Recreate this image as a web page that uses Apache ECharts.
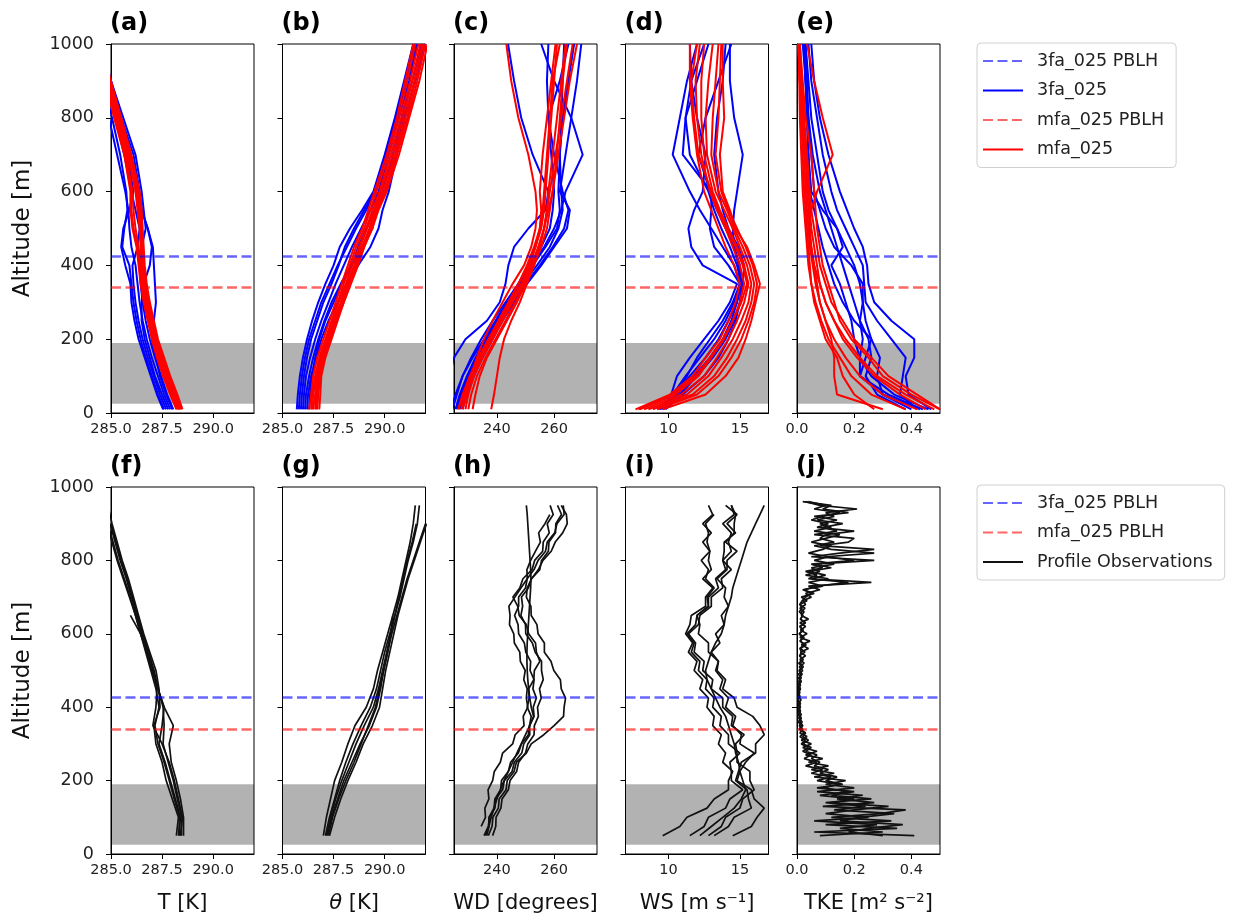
<!DOCTYPE html>
<html><head><meta charset="utf-8">
<script src="https://cdn.jsdelivr.net/npm/echarts@6/dist/echarts.min.js"></script>
<style>html,body{margin:0;padding:0;background:#fff}#c{width:1235px;height:919px}</style>
</head><body><div id="c"></div><script>
// ---------------- DATA ----------------
const PANEL_LABELS = ['(a)','(b)','(c)','(d)','(e)','(f)','(g)','(h)','(i)','(j)'];
const Y_TICKS = [0, 200, 400, 600, 800, 1000];
const TICKS_T = [285, 287.5, 290];
const TICKS_WD = [240, 260];
const TICKS_WS = [10, 15];
const TICKS_TKE = [0, 0.2, 0.4];
const PBLH_3FA = 426;
const PBLH_MFA = 340;
const BAND = [25, 190];

// model levels (m)
const Z_MODEL = [10, 50, 100, 150, 200, 250, 300, 350, 400, 450, 500, 550, 600, 700, 800, 900, 1000];

const T_3FA = [
 [287.6,287.3,287.0,286.7,286.45,286.25,286.1,286.0,285.9,285.55,285.65,285.8,285.75,285.45,285.05,284.6,284.2],
 [288.0,287.7,287.4,287.2,287.0,287.1,287.2,287.15,287.1,287.05,286.8,286.5,286.4,286.1,285.5,285.0,284.5],
 [287.8,287.5,287.15,286.9,286.65,286.5,286.5,286.6,286.9,287.0,286.8,286.5,286.35,285.95,285.4,284.9,284.4],
 [287.7,287.4,287.1,286.8,286.55,286.35,286.2,286.1,286.05,286.3,286.4,286.2,286.0,285.65,285.2,284.7,284.3],
 [287.9,287.6,287.3,287.0,286.75,286.55,286.4,286.3,286.2,286.0,285.9,285.85,285.7,285.3,284.9,284.5,284.1],
 [287.55,287.25,286.95,286.65,286.35,286.15,286.0,285.95,285.7,285.5,285.6,285.9,286.1,285.8,285.3,284.8,284.3],
 [288.05,287.75,287.45,287.15,286.9,286.7,286.55,286.45,286.4,286.5,286.7,286.6,286.5,286.2,285.6,285.0,284.5]
];
const T_MFA = [
 [288.35,288.1,287.75,287.45,287.15,286.95,286.75,286.6,286.5,286.45,286.4,286.3,286.2,285.85,285.35,284.85,284.4],
 [288.45,288.2,287.85,287.55,287.25,287.05,286.85,286.7,286.6,286.55,286.5,286.4,286.3,285.95,285.45,284.95,284.5],
 [288.3,288.0,287.65,287.35,287.1,286.9,286.7,286.55,286.45,286.35,286.2,286.1,286.05,285.75,285.25,284.8,284.3],
 [288.4,288.15,287.8,287.5,287.2,287.0,286.8,286.65,286.55,286.5,286.5,286.45,286.35,285.9,285.4,284.9,284.4],
 [288.25,287.95,287.6,287.3,287.05,286.85,286.65,286.5,286.4,286.3,286.1,286.0,286.0,285.7,285.2,284.75,284.3],
 [288.5,288.25,287.9,287.6,287.3,287.1,286.9,286.75,286.65,286.6,286.55,286.5,286.4,286.0,285.5,285.0,284.5],
 [288.35,288.05,287.7,287.4,287.15,286.95,286.78,286.62,286.55,286.5,286.45,286.35,286.25,285.8,285.3,284.85,284.35],
 [288.2,287.9,287.55,287.25,287.0,286.8,286.6,286.45,286.35,286.25,286.05,285.95,285.95,285.65,285.15,284.7,284.25]
];
const TH_3FA = [
 [285.7,285.75,285.85,286.0,286.2,286.45,286.75,287.1,287.5,287.8,288.3,288.9,289.45,290.0,290.5,290.95,291.4],
 [285.9,285.95,286.05,286.2,286.4,286.7,287.0,287.4,287.75,288.05,288.5,289.0,289.5,290.05,290.55,291.0,291.5],
 [286.0,286.05,286.15,286.35,286.6,286.9,287.25,287.6,288.0,288.4,288.85,289.3,289.7,290.2,290.7,291.2,291.6],
 [286.1,286.15,286.3,286.5,286.75,287.05,287.4,287.85,288.35,288.9,289.4,289.6,289.9,290.4,290.85,291.35,291.8],
 [286.2,286.25,286.4,286.65,286.9,287.25,287.7,288.15,288.7,289.3,289.7,289.9,290.2,290.6,291.0,291.5,291.9],
 [285.8,285.85,285.95,286.1,286.3,286.6,286.9,287.3,287.7,288.15,288.6,289.1,289.55,290.1,290.6,291.1,291.55],
 [286.3,286.35,286.45,286.6,286.8,287.1,287.5,287.9,288.4,288.7,289.1,289.5,289.9,290.4,290.95,291.5,292.0]
];
const TH_MFA = [
 [286.3,286.4,286.5,286.7,287.0,287.3,287.6,287.9,288.2,288.5,288.9,289.2,289.5,290.1,290.6,291.0,291.4],
 [286.4,286.45,286.6,286.8,287.1,287.4,287.7,288.0,288.3,288.6,289.0,289.3,289.6,290.2,290.7,291.1,291.5],
 [286.45,286.5,286.65,286.85,287.15,287.45,287.75,288.1,288.4,288.75,289.1,289.4,289.75,290.3,290.8,291.25,291.65],
 [286.5,286.6,286.7,286.9,287.2,287.5,287.85,288.15,288.5,288.8,289.15,289.5,289.8,290.4,290.9,291.35,291.75],
 [286.6,286.65,286.75,286.95,287.25,287.55,287.9,288.2,288.55,288.9,289.25,289.55,289.9,290.5,291.0,291.45,291.85],
 [286.65,286.7,286.8,287.0,287.3,287.6,287.95,288.25,288.6,288.95,289.3,289.6,290.0,290.55,291.1,291.5,291.9],
 [286.7,286.75,286.85,287.05,287.35,287.65,288.0,288.3,288.65,289.0,289.35,289.65,290.05,290.6,291.15,291.6,292.0],
 [286.8,286.85,286.9,287.1,287.4,287.7,288.0,288.35,288.7,289.0,289.4,289.7,290.1,290.7,291.2,291.7,292.1]
];
const WD_3FA = [
 [222,222.5,223.5,225,229,236.5,241,243,244,246,251,257,258,252.5,248.5,246,243.9],
 [224.5,226,228,231,234.5,238.5,243,247.5,252,256.5,260,262.5,264,270,266,260,255.5],
 [226,227.5,230,233,236.5,240.5,244.5,249,254,258.5,261.5,263,262.5,262,262.5,263,263.5],
 [227,228.5,231,234,237.5,241.5,245.5,250,255,259.5,263.5,265,263,260,258,257.5,258],
 [228,229.5,232,235,238.5,242,246,250.5,255.5,260,264.5,265.5,262,264,266,268,269.5],
 [225.5,227,229.5,232.5,236,240,244,248,252.5,257,261,262,261.5,262,263,265,267],
 [224,225.5,228,231.5,235.5,239.5,243.5,247.5,251.5,255.5,258.5,259.5,260,259,258,262,265]
];
const WD_MFA = [
 [228,229.5,231,233,235.5,238.5,242,245.5,249.5,252,253.5,254,253.5,251,247.5,245,243.3],
 [238,239,240,241,242.5,245,248,250.5,253,255,256.5,257.5,258,259.5,261,262.5,264],
 [226.5,228,230.5,233.5,237,240.5,244,247.5,251,253.5,255.5,256.5,257,258,259,260,261],
 [229,230,232,235,238.5,242,245.5,249,252,254.5,256.5,257.5,258.5,260.5,262.5,264.5,266.5],
 [231.5,232.5,234,236.5,240,243.5,247,250,253,255.5,257.5,258.5,259.5,261.5,263.5,265.5,268],
 [227.5,229,231.5,234.5,238,241.5,245,248.5,251.5,253.5,255,255.5,255,256,257.5,259,260.5],
 [230,231,233,236,239.5,243,246.5,249.5,252.5,254.5,256.5,258,259.5,261,262,263,264.5],
 [226.5,228.5,231,234,237.5,241,244.5,247.5,250.5,253,255,256,256.5,257.5,258.5,259.5,262]
];
const WS_3FA = [
 [9.5,10.2,10.6,11.5,12.5,13.5,14.3,14.8,12.4,11.6,11.4,11.8,12.4,12.6,12.0,11.6,11.5],
 [9.6,10.6,11.8,12.9,13.8,14.4,14.8,15.0,14.9,14.6,14.5,14.6,14.8,15.2,14.6,14.3,14.3],
 [9.4,10.3,11.2,12.2,13.2,14.0,14.6,15.0,14.6,13.8,13.0,12.2,11.5,10.3,10.8,11.3,12.0],
 [9.8,11.0,12.5,13.5,14.2,14.7,15.0,15.1,14.8,14.3,13.7,13.2,12.8,11.5,11.2,11.6,12.5],
 [9.3,10.4,11.5,12.6,13.5,14.2,14.8,15.1,15.0,14.6,14.0,13.4,12.9,12.1,12.6,13.5,14.4],
 [9.7,10.8,12.0,13.1,14.0,14.6,15.0,15.2,15.3,14.9,14.2,13.8,13.5,13.2,13.4,13.8,14.0],
 [9.5,10.5,11.3,12.0,12.9,13.8,14.5,15.0,14.2,13.2,12.9,13.0,13.0,11.0,11.2,12.0,12.8]
];
const WS_MFA = [
 [7.7,10.1,11.7,12.6,13.6,14.2,14.7,15.0,14.6,14.0,13.5,13.0,12.5,12.0,11.7,11.5,11.5],
 [8.0,10.5,12.1,13.0,13.9,14.5,15.0,15.3,15.0,14.5,14.0,13.4,12.9,12.3,12.0,11.9,12.2],
 [8.3,10.9,12.5,13.4,14.2,14.8,15.3,15.6,15.3,14.8,14.2,13.6,13.1,12.5,12.3,12.3,12.5],
 [8.6,11.3,12.8,13.7,14.5,15.1,15.6,15.8,15.5,15.0,14.5,13.9,13.3,12.7,12.6,12.8,13.1],
 [8.9,11.7,13.2,14.1,14.8,15.4,15.8,16.0,15.7,15.2,14.6,14.1,13.5,13.0,13.1,13.3,13.5],
 [9.2,12.0,13.5,14.4,15.1,15.6,16.0,16.2,15.9,15.4,14.8,14.2,13.7,13.3,13.5,13.6,13.7],
 [9.6,12.6,14.0,14.9,15.4,15.8,16.1,16.4,16.0,15.5,14.7,14.3,13.8,13.6,13.9,13.8,13.8],
 [7.9,10.3,11.9,12.9,13.8,14.5,15.1,15.5,15.2,14.7,14.1,13.5,13.0,12.1,11.8,11.6,12.0]
];
const TKE_3FA = [
 [0.47,0.39,0.38,0.41,0.41,0.33,0.27,0.25,0.245,0.23,0.2,0.175,0.15,0.11,0.08,0.06,0.05],
 [0.42,0.36,0.37,0.38,0.33,0.28,0.24,0.235,0.23,0.2,0.17,0.14,0.12,0.09,0.07,0.05,0.04],
 [0.4,0.3,0.22,0.24,0.26,0.24,0.23,0.22,0.2,0.17,0.14,0.11,0.09,0.07,0.05,0.04,0.03],
 [0.44,0.32,0.22,0.22,0.23,0.22,0.23,0.23,0.19,0.13,0.1,0.08,0.06,0.05,0.04,0.035,0.03],
 [0.38,0.28,0.24,0.26,0.25,0.22,0.2,0.18,0.16,0.14,0.12,0.1,0.08,0.055,0.04,0.03,0.025],
 [0.46,0.34,0.26,0.22,0.2,0.19,0.17,0.15,0.12,0.16,0.14,0.09,0.05,0.04,0.035,0.03,0.025],
 [0.43,0.3,0.28,0.29,0.26,0.2,0.16,0.13,0.11,0.09,0.075,0.06,0.045,0.04,0.035,0.03,0.02]
];
const TKE_MFA = [
 [0.5,0.4,0.3,0.25,0.19,0.15,0.13,0.11,0.09,0.08,0.07,0.065,0.06,0.05,0.03,0.02,0.01],
 [0.45,0.36,0.27,0.21,0.16,0.13,0.1,0.08,0.07,0.06,0.05,0.045,0.04,0.03,0.02,0.01,0.005],
 [0.42,0.3,0.22,0.17,0.13,0.1,0.08,0.065,0.055,0.045,0.04,0.035,0.03,0.025,0.015,0.01,0.005],
 [0.3,0.14,0.13,0.13,0.12,0.1,0.08,0.07,0.06,0.05,0.045,0.04,0.035,0.03,0.02,0.015,0.01],
 [0.48,0.38,0.28,0.22,0.17,0.13,0.1,0.08,0.06,0.05,0.04,0.05,0.07,0.125,0.09,0.06,0.035],
 [0.38,0.26,0.19,0.15,0.11,0.085,0.065,0.05,0.045,0.04,0.035,0.03,0.025,0.02,0.015,0.01,0.005],
 [0.5,0.42,0.32,0.26,0.2,0.16,0.12,0.1,0.08,0.07,0.06,0.05,0.045,0.035,0.025,0.015,0.01],
 [0.27,0.2,0.16,0.14,0.1,0.08,0.06,0.05,0.04,0.035,0.03,0.025,0.02,0.015,0.01,0.008,0.005]
];

// observation levels (m)
const Z_OBS_T = [50,100,150,200,250,300,350,400,450,500,550,600,650,700,750,800,850,900,950];
const T_OBS = [
 [288.55,288.55,288.4,288.2,287.95,287.85,288.05,287.6,287.3,287.1,286.85,286.55,286.3,286.05,285.8,285.5,285.25,285.0,null],
 [288.4,288.5,288.3,288.1,287.85,287.5,287.05,287.2,287.25,287.05,286.8,286.5,286.25,286.0,285.75,285.45,285.2,284.95,null],
 [288.2,288.3,288.0,287.7,287.5,287.2,287.1,287.4,287.35,287.2,286.9,286.6,286.35,286.1,285.85,285.55,285.3,285.05,284.85],
 [288.3,288.4,288.15,287.9,287.65,287.35,287.5,287.6,287.3,287.0,286.75,286.45,286.2,285.95,285.65,285.35,285.1,284.85,null],
 [288.45,288.45,288.25,288.05,287.8,287.55,287.6,287.55,287.3,287.1,286.8,286.45,285.95,null,null,null,null,null,null],
 [288.35,288.35,288.1,287.85,287.6,287.3,287.15,287.35,287.2,286.95,286.7,286.45,286.2,285.9,285.6,285.3,285.05,284.8,null]
];
const TH_OBS = [
 [287.0,287.15,287.35,287.55,287.9,288.2,288.55,289.1,289.45,289.65,289.9,290.15,290.4,290.65,290.85,291.05,291.25,291.4,291.5],
 [287.1,287.3,287.55,287.8,288.1,288.45,288.85,289.3,289.6,289.8,290.0,290.25,290.5,290.75,290.95,291.15,291.4,291.6,291.7],
 [287.2,287.4,287.7,288.0,288.4,288.8,289.25,289.6,289.8,289.95,290.15,290.35,290.6,290.85,291.1,291.4,291.7,292.0,null],
 [287.3,287.55,287.85,288.2,288.6,288.95,289.4,289.75,289.9,290.05,290.25,290.45,290.65,290.9,291.15,291.45,291.75,292.05,null],
 [287.25,287.45,287.75,288.1,288.5,288.85,289.2,289.55,289.75,289.95,290.15,290.3,290.4,null,null,null,null,null,null],
 [287.15,287.35,287.6,287.9,288.25,288.6,289.0,289.45,289.7,289.9,290.1,290.3,290.5,290.7,290.9,291.1,291.35,291.55,null]
];
const Z_OBS = [50,75,100,125,150,175,200,225,250,275,300,325,350,375,400,425,450,475,500,525,550,575,600,625,650,675,700,725,750,775,800,825,850,875,900,925,950];
const WD_OBS = [
 [null,234.5,236.0,235.8,237.2,236.9,238.5,239.1,241.2,242.0,245.5,246.4,249.5,249.2,250.8,250.3,250.6,249.4,249.9,248.2,248.0,246.1,245.9,244.4,244.6,244.2,246.3,248.4,250.6,250.5,251.8,253.5,255.2,254.6,256.8,258.5,null],
 [237.0,238.3,238.6,240.5,240.8,243.2,243.6,246.0,246.8,250.3,252.0,256.4,260.0,263.3,263.5,264.0,262.5,262.2,259.9,258.9,256.6,256.6,254.4,254.0,252.0,251.9,250.3,250.6,252.1,254.5,256.1,259.0,260.4,263.0,264.6,264.3,262.5],
 [236.0,237.2,237.2,239.0,239.3,241.3,241.6,244.0,244.8,247.5,248.6,251.0,251.4,253.0,252.7,253.8,252.6,253.0,251.6,251.8,250.1,249.6,247.6,247.4,246.2,247.6,247.6,250.0,250.6,253.0,254.4,257.0,257.6,260.2,261.0,263.5,263.2],
 [238.5,239.6,239.7,241.4,241.8,244.0,244.6,246.9,247.6,250.0,250.8,253.0,253.1,254.5,254.2,255.5,254.9,256.2,255.6,255.6,253.4,252.4,250.1,250.0,248.4,249.0,248.6,251.0,252.1,255.0,255.6,258.0,258.2,260.5,260.6,262.6,261.2],
 [235.5,237.0,237.4,239.3,239.6,242.0,242.6,245.3,246.1,248.7,249.4,251.5,251.4,252.0,250.6,251.3,251.1,252.9,253.1,255.0,253.8,253.5,251.1,250.3,247.8,247.3,245.6,248.0,249.1,252.3,253.2,256.0,256.2,258.3,257.6,259.7,258.6],
 [236.5,237.2,238.0,239.0,240.0,241.2,242.5,244.0,245.5,247.0,248.5,250.0,251.5,252.8,252.0,251.5,251.1,250.8,250.6,250.5,250.5,250.6,250.8,251.0,251.2,251.4,251.6,251.8,251.9,251.8,251.6,251.4,251.2,251.0,250.8,250.6,250.3]
];
const WS_OBS = [
 [9.6,10.8,11.3,12.7,13.2,14.2,14.2,14.5,13.8,14.0,13.5,13.7,13.1,13.2,12.7,12.8,12.2,12.4,11.8,12.0,11.4,11.7,11.2,11.5,11.6,12.6,12.6,13.1,12.4,13.0,12.8,12.9,12.7,12.8,12.6,13.2,null],
 [13.2,14.2,14.6,15.8,15.6,15.5,14.7,14.9,15.1,16.1,16.1,16.7,16.4,15.9,14.8,14.6,13.8,14.0,13.4,13.5,12.8,12.8,12.1,12.2,12.0,12.8,12.8,13.5,13.3,14.0,13.8,14.4,14.2,14.4,13.8,14.6,14.4],
 [11.5,12.5,12.8,14.0,14.3,15.2,14.4,14.4,14.3,15.0,14.2,14.2,13.6,13.7,13.1,13.2,12.6,12.7,12.1,12.2,11.6,11.8,11.3,11.9,12.0,12.8,12.7,13.2,12.6,12.8,12.3,12.9,12.4,13.0,12.4,13.1,12.8],
 [14.5,15.8,16.2,16.7,16.0,15.8,14.8,15.0,15.4,16.0,15.0,15.1,14.5,14.7,14.0,14.2,13.6,13.8,13.3,13.5,13.0,13.6,13.3,13.9,13.7,14.2,13.9,14.0,13.4,14.1,14.1,14.8,14.0,14.6,14.6,14.7,14.4],
 [12.2,13.0,13.8,14.6,15.1,15.4,15.2,15.0,14.9,14.7,14.6,14.4,14.2,14.0,13.6,13.3,13.0,12.7,12.6,12.8,13.0,13.3,13.7,13.9,14.0,14.2,14.4,14.5,14.7,14.9,15.1,15.3,15.5,15.8,16.1,16.4,16.7],
 [12.8,13.7,14.0,15.0,15.2,16.0,15.7,15.7,14.8,14.8,14.7,15.3,14.4,14.5,13.8,13.8,13.0,13.1,12.4,12.5,11.8,11.9,11.4,12.1,12.2,13.0,13.0,13.8,13.7,14.4,13.8,13.9,13.9,14.7,14.1,14.8,14.0]
];
const Z_OBS_TKE = [50,60,70,80,90,100,110,120,130,140,150,160,170,180,190,200,210,220,230,240,250,260,270,280,290,300,310,320,330,340,350,360,370,380,390,400,410,420,430,440,450,460,470,480,490,500,510,520,530,540,550,560,570,580,590,600,610,620,630,640,650,660,670,680,690,700,710,720,730,740,750,760,770,780,790,800,810,820,830,840,850,860,870,880,890,900,910,920,930,940,950,960];
const TKE_OBS = [
 [0.41,0.06,0.35,0.10,0.33,0.12,0.29,0.38,0.09,0.27,0.14,0.23,0.07,0.2,0.1,0.17,0.06,0.13,0.05,0.11,0.04,0.09,0.03,0.07,0.02,0.05,0.015,0.035,0.01,0.02,0.008,0.018,0.006,0.015,0.005,0.012,0.006,0.014,0.005,0.01,0.004,0.012,0.006,0.015,0.005,0.02,0.008,0.025,0.01,0.03,0.012,0.04,0.015,0.045,0.01,0.035,0.012,0.03,0.01,0.04,0.015,0.025,0.01,0.03,0.02,0.05,0.03,0.08,0.04,0.26,0.05,0.1,0.04,0.12,0.06,0.27,0.05,0.15,0.27,0.08,0.18,0.2,0.06,0.14,0.09,0.16,0.07,0.13,0.1,0.21,0.08,0.03],
 [0.08,0.3,0.15,0.28,0.06,0.25,0.1,0.2,0.32,0.12,0.2,0.08,0.18,0.09,0.15,0.07,0.12,0.05,0.09,0.03,0.07,0.025,0.05,0.02,0.04,0.015,0.03,0.01,0.025,0.008,0.015,0.005,0.012,0.004,0.01,0.006,0.012,0.004,0.009,0.005,0.011,0.004,0.01,0.006,0.014,0.007,0.018,0.006,0.022,0.009,0.028,0.012,0.032,0.01,0.025,0.008,0.02,0.01,0.028,0.012,0.02,0.008,0.018,0.01,0.035,0.015,0.06,0.02,0.09,0.04,0.11,0.03,0.08,0.05,0.13,0.06,0.11,0.04,0.09,0.12,0.05,0.1,0.15,0.06,0.12,0.08,0.14,0.06,0.18,0.09,0.12,0.02],
 [0.3,0.18,0.25,0.37,0.15,0.22,0.34,0.13,0.24,0.1,0.26,0.12,0.2,0.07,0.16,0.1,0.14,0.08,0.11,0.06,0.08,0.05,0.07,0.03,0.05,0.02,0.04,0.02,0.03,0.012,0.02,0.01,0.015,0.008,0.012,0.005,0.008,0.004,0.01,0.005,0.012,0.006,0.015,0.008,0.018,0.01,0.022,0.012,0.02,0.009,0.016,0.01,0.025,0.012,0.018,0.008,0.022,0.01,0.03,0.012,0.02,0.015,0.028,0.01,0.018,0.03,0.05,0.025,0.07,0.18,0.04,0.07,0.03,0.09,0.05,0.2,0.1,0.27,0.12,0.06,0.13,0.08,0.1,0.2,0.07,0.11,0.05,0.09,0.15,0.06,0.1,0.04]
];

// ---------------- LAYOUT / STYLE ----------------
const FONT = 'DejaVu Sans';
const LEFTS = [111, 282.5, 454, 625.5, 797];
const PW = 143;
const ROWS = [{top: 44, h: 369}, {top: 487, h: 367}];
const BLUE = '#0000ff', RED = '#ff0000';
const BLUE_D = 'rgba(0,0,255,0.6)', RED_D = 'rgba(255,0,0,0.6)';
const DASH = [10, 4.5];

const PANELS = [
 {min: 285, max: 292, ticks: TICKS_T, dec: 1, blue: T_3FA, red: T_MFA},
 {min: 285, max: 292, ticks: TICKS_T, dec: 1, blue: TH_3FA, red: TH_MFA},
 {min: 225, max: 275, ticks: TICKS_WD, dec: 0, blue: WD_3FA, red: WD_MFA},
 {min: 7, max: 17, ticks: TICKS_WS, dec: 0, blue: WS_3FA, red: WS_MFA},
 {min: 0, max: 0.5, ticks: TICKS_TKE, dec: 1, blue: TKE_3FA, red: TKE_MFA},
 {min: 285, max: 292, ticks: TICKS_T, dec: 1, obs: T_OBS, z: Z_OBS_T, name: 'T [K]'},
 {min: 285, max: 292, ticks: TICKS_T, dec: 1, obs: TH_OBS, z: Z_OBS_T, name: '{i|θ} [K]'},
 {min: 225, max: 275, ticks: TICKS_WD, dec: 0, obs: WD_OBS, z: Z_OBS, name: 'WD [degrees]'},
 {min: 7, max: 17, ticks: TICKS_WS, dec: 0, obs: WS_OBS, z: Z_OBS, name: 'WS [m s⁻¹]'},
 {min: 0, max: 0.5, ticks: TICKS_TKE, dec: 1, obs: TKE_OBS, z: Z_OBS_TKE, name: 'TKE [m² s⁻²]'}
];

function pts(xs, zs) {
  const out = [];
  for (let i = 0; i < xs.length; i++) if (xs[i] !== null) out.push([xs[i], zs[i]]);
  return out;
}

const grids = [], xAxes = [], yAxes = [], series = [], titles = [];
PANELS.forEach((p, g) => {
  const row = ROWS[g < 5 ? 0 : 1];
  grids.push({left: LEFTS[g % 5], top: row.top, width: PW, height: row.h, show: true,
    borderColor: '#000', borderWidth: 1, backgroundColor: 'transparent'});
  xAxes.push({gridIndex: g, type: 'value', min: p.min, max: p.max,
    axisLine: {show: true, onZero: false, lineStyle: {color: '#000', width: 1}},
    axisTick: {show: true, length: 5, customValues: p.ticks, lineStyle: {color: '#000'}},
    axisLabel: {customValues: p.ticks, formatter: v => Number(v).toFixed(p.dec),
      fontSize: 14.5, color: '#222', margin: 9, fontFamily: FONT},
    splitLine: {show: false},
    name: p.name || '', nameLocation: 'middle', nameGap: 39,
    nameTextStyle: {fontSize: 21, color: '#111', fontFamily: FONT,
      rich: {i: {fontSize: 21, fontStyle: 'italic', color: '#111', fontFamily: FONT}}}
  });
  const lab = (g === 0 || g === 5);
  yAxes.push({gridIndex: g, type: 'value', min: 0, max: 1000, interval: 200,
    axisLine: {show: true, onZero: false, lineStyle: {color: '#000', width: 1}},
    axisTick: {show: true, length: 5, lineStyle: {color: '#000'}},
    axisLabel: {show: lab, fontSize: 17.5, color: '#222', margin: 17, fontFamily: FONT,
      formatter: v => String(v)},
    splitLine: {show: false},
    name: lab ? 'Altitude [m]' : '', nameLocation: 'middle', nameGap: 76,
    nameTextStyle: {fontSize: 23, color: '#111', fontFamily: FONT}
  });
  titles.push({text: PANEL_LABELS[g], left: LEFTS[g % 5] - 1, top: g < 5 ? 12 : 455, padding: 0,
    textStyle: {fontSize: 24, fontWeight: 'bold', color: '#000', fontFamily: FONT}});

  // gray band
  series.push({type: 'line', xAxisIndex: g, yAxisIndex: g, data: [], z: 1, silent: true,
    markArea: {silent: true, itemStyle: {color: 'rgba(0,0,0,0.3)'},
      data: [[{yAxis: BAND[0]}, {yAxis: BAND[1]}]]}});
  const common = {type: 'line', xAxisIndex: g, yAxisIndex: g, symbol: 'none', silent: true, z: 2};
  if (p.blue) {
    p.blue.forEach(a => series.push(Object.assign({}, common, {name: '3fa_025', data: pts(a, Z_MODEL),
      itemStyle: {color: BLUE}, lineStyle: {color: BLUE, width: 2}})));
    p.red.forEach(a => series.push(Object.assign({}, common, {name: 'mfa_025', data: pts(a, Z_MODEL),
      itemStyle: {color: RED}, lineStyle: {color: RED, width: 2}})));
  } else {
    p.obs.forEach(a => series.push(Object.assign({}, common, {name: 'Profile Observations', data: pts(a, p.z),
      itemStyle: {color: '#111'}, lineStyle: {color: '#111', width: 1.7}})));
  }
  [[ '3fa_025 PBLH', BLUE_D, PBLH_3FA], ['mfa_025 PBLH', RED_D, PBLH_MFA]].forEach(([nm, c, v]) => {
    series.push({type: 'line', name: nm, xAxisIndex: g, yAxisIndex: g, data: [], symbol: 'none', z: 3,
      itemStyle: {color: c}, lineStyle: {color: c, width: 2.5, type: DASH},
      markLine: {silent: true, symbol: ['none', 'none'], label: {show: false},
        lineStyle: {color: c, width: 2.5, type: DASH}, emphasis: {disabled: true},
        data: [{yAxis: v}]}});
  });
});

const legendCommon = {orient: 'vertical', left: 977, itemWidth: 40, itemHeight: 14, itemGap: 11.5,
  padding: [9, 12, 9, 5], borderColor: '#d0d0d0', borderWidth: 1, borderRadius: 4,
  backgroundColor: '#fff', selectedMode: false,
  itemStyle: {opacity: 0, borderWidth: 0},
  textStyle: {fontSize: 17.5, color: '#222', fontFamily: FONT, padding: [0, 0, 0, 9]}};

const chart = echarts.init(document.getElementById('c'), null, {renderer: 'canvas'});
chart.setOption({
  animation: false,
  backgroundColor: '#fff',
  title: titles,
  grid: grids,
  xAxis: xAxes,
  yAxis: yAxes,
  legend: [
    Object.assign({}, legendCommon, {top: 43, data: ['3fa_025 PBLH', '3fa_025', 'mfa_025 PBLH', 'mfa_025']}),
    Object.assign({}, legendCommon, {top: 485, data: ['3fa_025 PBLH', 'mfa_025 PBLH', 'Profile Observations']})
  ],
  series: series
});
</script></body></html>
